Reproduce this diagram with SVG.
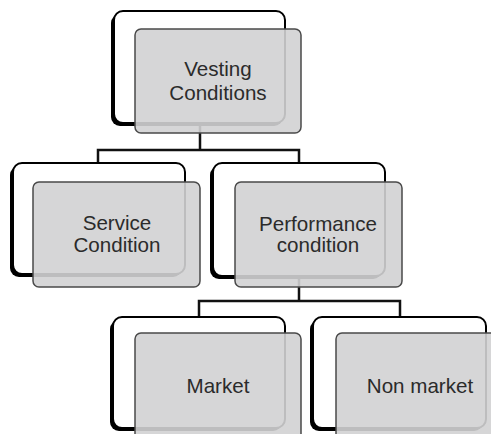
<svg xmlns="http://www.w3.org/2000/svg" width="491" height="434" viewBox="0 0 491 434">
<style>
.shadow{fill:#000}
.back{fill:#fff;stroke:#000;stroke-width:2}
.front{fill:#d1d2d3;fill-opacity:0.9;stroke:#4a4a4a;stroke-width:1.5}
.conn{fill:none;stroke:#111;stroke-width:2.5}
text{font-family:"Liberation Sans",Arial,Helvetica,sans-serif;font-size:20.6px;fill:#2b2b2b;text-anchor:middle}
</style>
<rect width="491" height="434" fill="#fff"/>
<g id="connectors">
<path class="conn" d="M200,123 V150 M98,163 V150 H299 V163"/>
<path class="conn" d="M299,276 V301 M199,317 V301 H400 V317"/>
</g>
<g id="vesting">
<rect class="shadow" x="111" y="14" width="172" height="112" rx="9"/>
<rect class="back" x="114" y="11" width="171" height="112" rx="9"/>
<rect class="front" x="135" y="29" width="166" height="104" rx="6"/>
<text x="218" y="76">Vesting</text>
<text x="218" y="100">Conditions</text>
</g>
<g id="service">
<rect class="shadow" x="10" y="166" width="172" height="111" rx="9"/>
<rect class="back" x="13" y="163" width="172" height="111" rx="9"/>
<rect class="front" x="33" y="182" width="167" height="105" rx="6"/>
<text x="117" y="230">Service</text>
<text x="117" y="252">Condition</text>
</g>
<g id="performance">
<rect class="shadow" x="210" y="166" width="172" height="113" rx="9"/>
<rect class="back" x="213" y="163" width="172" height="113" rx="9"/>
<rect class="front" x="235" y="182" width="167" height="105" rx="6"/>
<text x="318" y="231">Performance</text>
<text x="318" y="252">condition</text>
</g>
<g id="market">
<rect class="shadow" x="110" y="320" width="172" height="111" rx="9"/>
<rect class="back" x="113" y="317" width="172" height="111" rx="9"/>
<rect class="front" x="135" y="333" width="166" height="110" rx="6"/>
<text x="218" y="393">Market</text>
</g>
<g id="nonmarket">
<rect class="shadow" x="310" y="320" width="173" height="111" rx="9"/>
<rect class="back" x="313" y="317" width="173" height="111" rx="9"/>
<rect class="front" x="336" y="333" width="167" height="110" rx="6"/>
<text x="420" y="393">Non market</text>
</g>
</svg>
